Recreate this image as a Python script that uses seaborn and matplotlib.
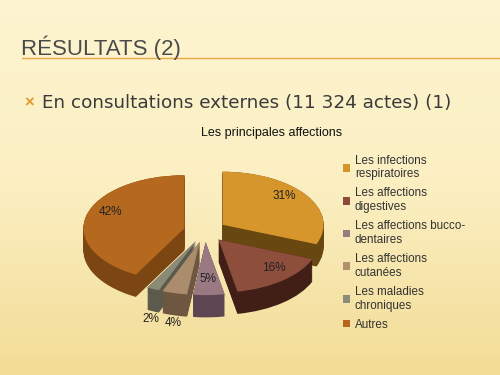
import numpy as np
import matplotlib
matplotlib.use("Agg")
import matplotlib.pyplot as plt
import seaborn as sns
from matplotlib.colors import LinearSegmentedColormap
from matplotlib.patches import Patch

sns.set_theme(style="white")
plt.rcParams['font.family'] = ['Liberation Sans', 'DejaVu Sans']

# ---- data ----
categories = ["Les infections\nrespiratoires", "Les affections\ndigestives",
              "Les affections bucco-\ndentaires", "Les affections\ncutanées",
              "Les maladies\nchroniques", "Autres"]
values = [31, 16, 5, 4, 2, 42]
top_colors = ["#d6962c", "#8d4e3c", "#9b7983", "#ab8d6d", "#8b8a77", "#b4691f"]
side_colors = ["#684810", "#421f16", "#5e4552", "#6e5740", "#5b5a4c", "#7c4612"]
legend_colors = ["#d4952a", "#8b4a3a", "#9a7b80", "#b0906e", "#8c8a78", "#b8661e"]
title = "RÉSULTATS (2)"
bullet = "En consultations externes (11 324 actes) (1)"
chart_title = "Les principales affections"

fig = plt.figure(figsize=(5, 3.75), dpi=100)

# background gradient
bg = fig.add_axes([0, 0, 1, 1], zorder=-10)
cmap = LinearSegmentedColormap.from_list("bg", ["#fdf4d0", "#fbefc2", "#f2dc95"])
grad = np.linspace(0, 1, 256).reshape(-1, 1)
bg.imshow(grad, aspect="auto", cmap=cmap, extent=[0, 1, 0, 1], origin="upper")
bg.set_axis_off()

# slide texts
fig.text(21 / 500, 1 - 48 / 375, title, fontsize=16, color="#4a4a4a",
         va="center", ha="left")
bg.plot([22 / 500, 1], [1 - 58 / 375, 1 - 58 / 375], color="#e8a84a", lw=1.0,
        transform=fig.transFigure)
fig.text(24 / 500, 1 - 103 / 375, "×", fontsize=12, color="#e79a2a",
         va="center", ha="left", fontweight="bold")
fig.text(42 / 500, 1 - 103 / 375, bullet, fontsize=13.2, color="#3a3a3a",
         va="center", ha="left", family="DejaVu Sans")
fig.text(272 / 500, 1 - 133 / 375, chart_title, fontsize=9, color="#111111",
         va="center", ha="center")

# pie axes
h_scale, v_scale = 101.0, 53.0  # px per data unit
cx_px, cy_px = 205.0, 231.0
xl, yl = (-1.45, 1.45), (-2.0, 1.4)
w_px = (xl[1] - xl[0]) * h_scale
h_px = (yl[1] - yl[0]) * v_scale
left_px = cx_px + xl[0] * h_scale
bottom_px = cy_px - yl[0] * v_scale
ax = fig.add_axes([left_px / 500, 1 - bottom_px / 375, w_px / 500, h_px / 375])
explode = [0.21] * len(values)
depth = 0.42
nlayers = 26
for d in np.linspace(depth, 0.0, nlayers):
    ax.pie(values, colors=side_colors, startangle=90, counterclock=False,
           explode=explode, center=(0, -d), radius=1.0,
           wedgeprops=dict(linewidth=0))
wedges, _ = ax.pie(values, colors=top_colors, startangle=90, counterclock=False,
                   explode=explode, center=(0, 0), radius=1.0,
                   wedgeprops=dict(linewidth=0))
ax.set_aspect("auto")
ax.set_xlim(*xl)
ax.set_ylim(*yl)
ax.set_axis_off()

# percent labels
for w, v in zip(wedges, values):
    mid = np.deg2rad((w.theta1 + w.theta2) / 2)
    cx, cy = w.center
    if v > 5:
        r = {31: 0.74, 16: 0.86, 42: 0.76}.get(v, 0.75)
        x, y = cx + r * np.cos(mid), cy + r * np.sin(mid) + 0.12
    elif v == 5:
        x, y = cx + 0.7 * np.cos(mid), cy + 0.7 * np.sin(mid)
    else:
        x, y = cx + 1.05 * np.cos(mid), cy + 1.0 * np.sin(mid) - depth - 0.14
    ax.text(x, y, f"{v}%", ha="center", va="center", fontsize=8.5, color="#222222")

# legend
handles = [Patch(facecolor=c, edgecolor="none") for c in legend_colors]
fig.legend(handles, categories, loc="upper left", bbox_to_anchor=(338 / 500, 1 - 150 / 375),
           frameon=False, fontsize=8.4, handlelength=0.65, handleheight=0.65,
           handletextpad=0.4, labelspacing=0.6, labelcolor="#333333",
           borderaxespad=0)

fig.savefig("out.png", dpi=100)
